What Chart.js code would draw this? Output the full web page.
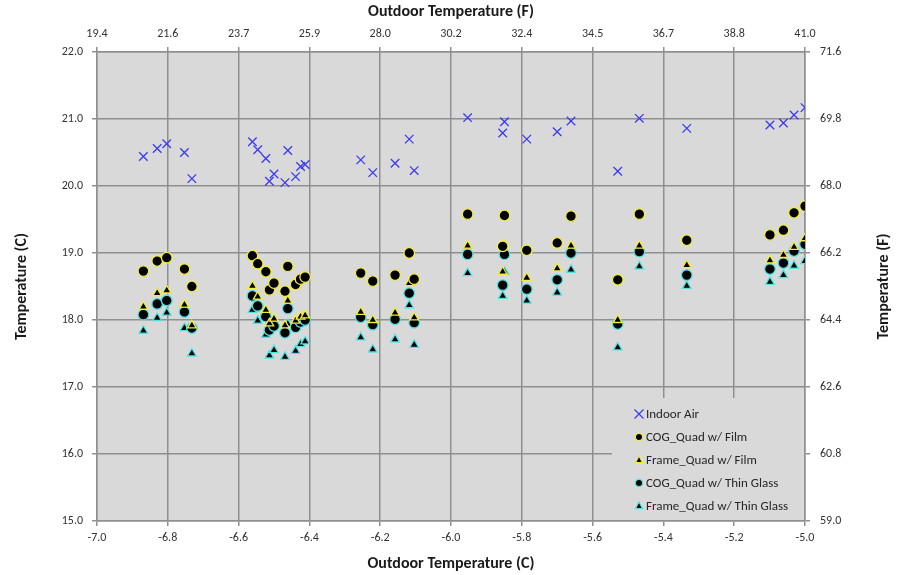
<!DOCTYPE html>
<html>
<head>
<meta charset="utf-8">
<script src="https://cdn.jsdelivr.net/npm/chart.js@4/dist/chart.umd.min.js"></script>
<style>
  body { margin: 0; background: #fff; }
  canvas { display: block; }
</style>
</head>
<body>
<canvas id="chart" width="901" height="575"></canvas>
<script>
// outdoor temperature (C) for each reading
const outdoorC = [
  -6.869, -6.830, -6.803, -6.753, -6.732,
  -6.561, -6.546, -6.523, -6.513, -6.500, -6.469, -6.461, -6.439, -6.425, -6.412,
  -6.255, -6.221, -6.158, -6.118, -6.104,
  -5.953, -5.854, -5.849, -5.786, -5.700, -5.661, -5.529, -5.468, -5.334,
  -5.099, -5.061, -5.031, -5.000
];
const indoorAir = [
  20.44, 20.56, 20.63, 20.50, 20.11,
  20.66, 20.54, 20.41, 20.07, 20.18, 20.05, 20.53, 20.14, 20.29, 20.32,
  20.39, 20.20, 20.34, 20.70, 20.23,
  21.02, 20.79, 20.96, 20.70, 20.81, 20.97, 20.22, 21.01, 20.86,
  20.91, 20.94, 21.06, 21.17
];
const cogFilm = [
  18.73, 18.88, 18.93, 18.76, 18.50,
  18.96, 18.84, 18.72, 18.45, 18.55, 18.43, 18.80, 18.53, 18.61, 18.64,
  18.70, 18.58, 18.67, 19.00, 18.61,
  19.58, 19.10, 19.56, 19.04, 19.15, 19.55, 18.60, 19.58, 19.19,
  19.27, 19.34, 19.60, 19.70
];
const frameFilm = [
  18.20, 18.40, 18.44, 18.23, 17.92,
  18.51, 18.35, 18.15, 17.95, 18.02, 17.92, 18.29, 17.99, 18.05, 18.07,
  18.12, 18.00, 18.11, 18.55, 18.04,
  19.11, 18.72, 19.12, 18.63, 18.77, 19.11, 18.00, 19.11, 18.82,
  18.89, 18.97, 19.09, 19.22
];
const cogThin = [
  18.08, 18.24, 18.29, 18.12, 17.88,
  18.36, 18.21, 18.05, 17.85, 17.91, 17.81, 18.17, 17.89, 17.97, 18.00,
  18.04, 17.93, 18.01, 18.40, 17.96,
  18.98, 18.52, 18.98, 18.46, 18.60, 19.00, 17.94, 19.02, 18.67,
  18.76, 18.85, 19.03, 19.13
];
const frameThin = [
  17.84, 18.03, 18.11, 17.88, 17.50,
  18.15, 17.99, 17.78, 17.47, 17.55, 17.45, 17.94, 17.54, 17.64, 17.68,
  17.74, 17.56, 17.71, 18.22, 17.63,
  18.70, 18.36, 18.72, 18.29, 18.41, 18.75, 17.59, 18.80, 18.51,
  18.57, 18.67, 18.81, 18.88
];

// secondary axis labels (F)
const topTicksF = [19.4, 21.6, 23.7, 25.9, 28.0, 30.2, 32.4, 34.5, 36.7, 38.8, 41.0];
const rightTicksF = [59.0, 60.8, 62.6, 64.4, 66.2, 68.0, 69.8, 71.6];

const seriesNames = ['Indoor Air', 'COG_Quad w/ Film', 'Frame_Quad w/ Film', 'COG_Quad w/ Thin Glass', 'Frame_Quad w/ Thin Glass'];

const FONT = "Carlito, Lato, 'Open Sans', sans-serif";
const GRID = '#8f8f8f';
const YELLOW = '#f2ee3a';
const CYAN = '#4fe3e3';
const BLUE = '#3a3af0';

const toPoints = (ys) => outdoorC.map((x, i) => ({x: x, y: ys[i]}));

const styles = [
  {pointStyle: 'crossRot', pointRadius: 6, borderColor: BLUE, backgroundColor: BLUE, pointBorderWidth: 1.3},
  {pointStyle: 'circle', pointRadius: 5.3, borderColor: YELLOW, backgroundColor: '#000', pointBorderWidth: 1.3},
  {pointStyle: 'triangle', pointRadius: 5, borderColor: YELLOW, backgroundColor: '#000', pointBorderWidth: 1.3},
  {pointStyle: 'circle', pointRadius: 5.3, borderColor: CYAN, backgroundColor: '#000', pointBorderWidth: 1.3},
  {pointStyle: 'triangle', pointRadius: 5, borderColor: CYAN, backgroundColor: '#000', pointBorderWidth: 1.3}
];
const seriesData = [indoorAir, cogFilm, frameFilm, cogThin, frameThin];

const datasets = seriesData.map((ys, i) => Object.assign({
  label: seriesNames[i],
  data: toPoints(ys),
  xAxisID: 'x',
  yAxisID: 'y',
  showLine: false
}, styles[i]));

function drawMarker(ctx, st, x, y, r) {
  ctx.save();
  ctx.lineWidth = 1.2;
  ctx.strokeStyle = st.borderColor;
  ctx.fillStyle = st.backgroundColor;
  ctx.beginPath();
  if (st.pointStyle === 'crossRot') {
    ctx.moveTo(x - r, y - r); ctx.lineTo(x + r, y + r);
    ctx.moveTo(x + r, y - r); ctx.lineTo(x - r, y + r);
    ctx.stroke();
  } else if (st.pointStyle === 'circle') {
    ctx.arc(x, y, r, 0, Math.PI * 2);
    ctx.fill(); ctx.stroke();
  } else {
    ctx.moveTo(x, y - r * 1.1);
    ctx.lineTo(x + r, y + r * 0.75);
    ctx.lineTo(x - r, y + r * 0.75);
    ctx.closePath();
    ctx.fill(); ctx.stroke();
  }
  ctx.restore();
}

const plotBg = {
  id: 'plotBg',
  beforeDraw(chart) {
    const {ctx, chartArea: a} = chart;
    ctx.save();
    ctx.fillStyle = '#d9d9d9';
    ctx.fillRect(a.left, a.top, a.right - a.left, a.bottom - a.top);
    ctx.restore();
  }
};

// legend box inside the plot, bottom right; right title reads upward like the left one
const boxLegend = {
  id: 'boxLegend',
  afterDraw(chart) {
    const {ctx, chartArea: a} = chart;
    const left = 612, top = 398;
    ctx.save();
    ctx.fillStyle = '#d9d9d9';
    ctx.fillRect(left, top, a.right - 1 - left, a.bottom - 1 - top);
    ctx.font = '13px ' + FONT;
    ctx.fillStyle = '#262626';
    ctx.textBaseline = 'middle';
    ctx.textAlign = 'left';
    const rows = [414, 437, 460, 483, 506];
    seriesNames.forEach((name, i) => {
      drawMarker(ctx, styles[i], 639, rows[i], i === 0 ? 4.5 : 3.6);
      ctx.fillText(name, 646, rows[i] + 1);
    });

    ctx.translate(884, (a.top + a.bottom) / 2);
    ctx.rotate(-Math.PI / 2);
    ctx.font = 'bold 16px ' + FONT;
    ctx.fillStyle = '#1a1a1a';
    ctx.textAlign = 'center';
    ctx.fillText('Temperature (F)', 0, 0);
    ctx.restore();
  }
};

new Chart(document.getElementById('chart'), {
  type: 'scatter',
  data: {datasets: datasets},
  options: {
    responsive: false,
    animation: false,
    devicePixelRatio: 1,
    layout: {padding: 0},
    plugins: {legend: {display: false}, tooltip: {enabled: false}},
    scales: {
      x: {
        type: 'linear', position: 'bottom', min: -7, max: -5,
        afterFit: (s) => { s.height = 54; },
        ticks: {stepSize: 0.2, padding: 5, color: '#333', font: {family: FONT, size: 12},
          callback: (v) => v.toFixed(1)},
        grid: {color: GRID, lineWidth: 1.5, tickLength: 5},
        border: {color: GRID, width: 1.5},
        title: {display: true, text: 'Outdoor Temperature (C)', color: '#1a1a1a',
          font: {family: FONT, size: 16, weight: 'bold'}, padding: {top: 0, bottom: 1}}
      },
      x2: {
        type: 'linear', position: 'top', min: 0, max: topTicksF.length - 1,
        afterFit: (s) => { s.height = 52; },
        ticks: {stepSize: 1, padding: 6, color: '#333', font: {family: FONT, size: 12},
          callback: (v) => topTicksF[v] === undefined ? '' : topTicksF[v].toFixed(1)},
        grid: {drawOnChartArea: false, color: GRID, lineWidth: 1.5, tickLength: 5},
        border: {color: GRID, width: 1.5},
        title: {display: true, text: 'Outdoor Temperature (F)', color: '#1a1a1a',
          font: {family: FONT, size: 16, weight: 'bold'}, padding: {top: 2, bottom: 0}}
      },
      y: {
        type: 'linear', position: 'left', min: 15, max: 22,
        afterFit: (s) => { s.width = 97; },
        ticks: {stepSize: 1, padding: 9, color: '#333', font: {family: FONT, size: 12},
          callback: (v) => v.toFixed(1)},
        grid: {color: GRID, lineWidth: 1.5, tickLength: 5},
        border: {color: GRID, width: 1.5},
        title: {display: true, text: 'Temperature (C)', color: '#1a1a1a',
          font: {family: FONT, size: 16, weight: 'bold'}, padding: {top: 12, bottom: 0}}
      },
      y2: {
        type: 'linear', position: 'right', min: 0, max: rightTicksF.length - 1,
        afterFit: (s) => { s.width = 96; },
        ticks: {stepSize: 1, padding: 10, color: '#333', font: {family: FONT, size: 12},
          callback: (v) => rightTicksF[v] === undefined ? '' : rightTicksF[v].toFixed(1)},
        grid: {drawOnChartArea: false, color: GRID, lineWidth: 1.5, tickLength: 5},
        border: {color: GRID, width: 1.5}
      }
    }
  },
  plugins: [plotBg, boxLegend]
});
</script>
</body>
</html>
